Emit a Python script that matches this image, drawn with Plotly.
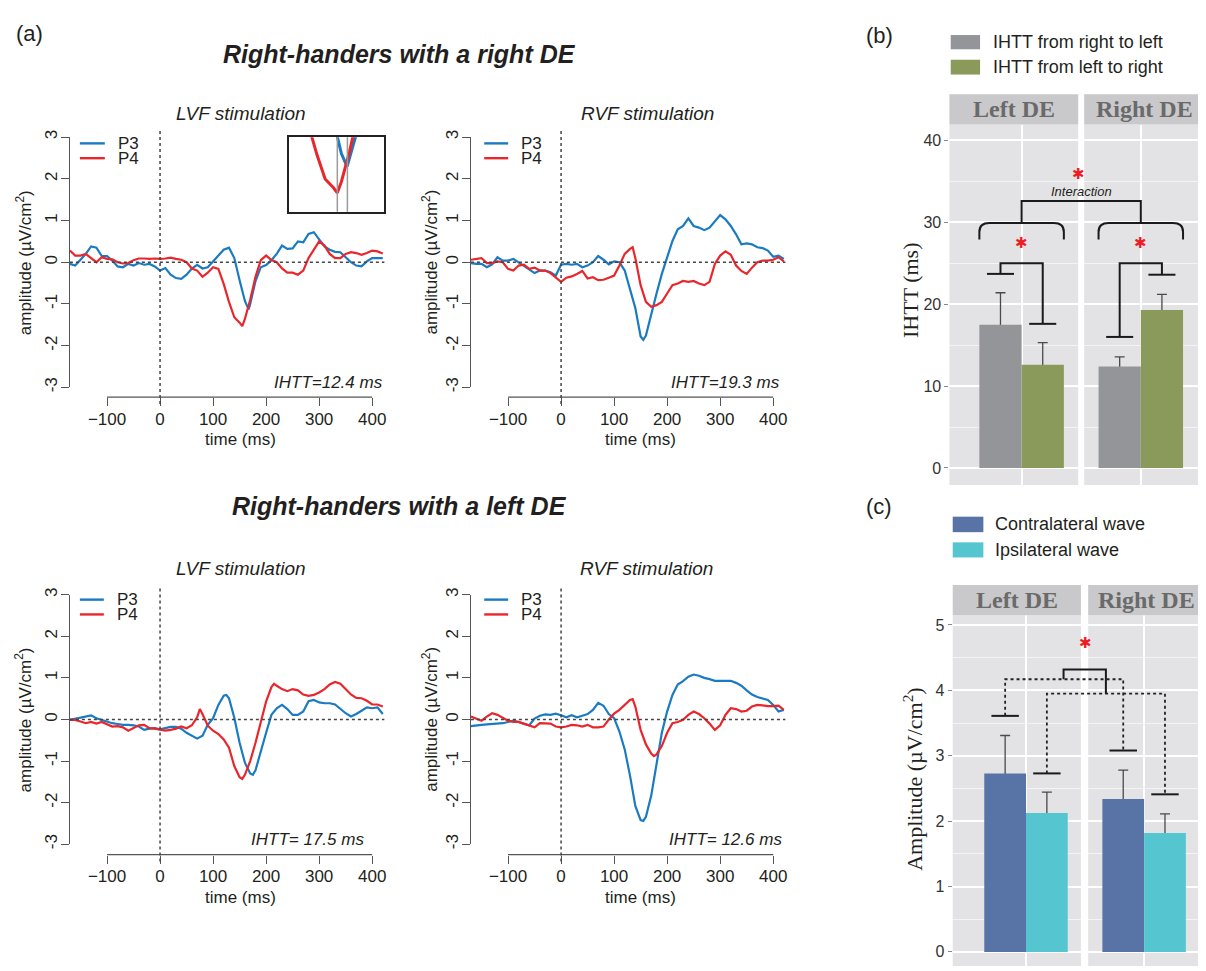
import plotly.graph_objects as go

# the page is drawn with an 8px body margin, so the figure is sized to fit the window
OFF = 8
FIG_W, FIG_H = 1206 - OFF, 971 - OFF
SANS = "Liberation Sans"
SERIF = "Liberation Serif"
INK = "#231f20"
BLUE = "#1a7bc2"
RED = "#e9262b"
STAR_RED = "#ee1d24"
GRAY_BAR = "#939598"
GREEN_BAR = "#8a9a5b"
CONTRA = "#5873a6"
IPSI = "#55c5cf"
PANEL_BG = "#e3e3e5"
STRIP_BG = "#c9c9cb"
STRIP_TXT = "#6a6a6a"
AXC = "#555555"

# ---------------- data: ERP traces (uV/cm2), time in ms ----------------
T = list(range(-170, 421, 10))

RDE_LVF_P3 = [-0.04, -0.08, 0.06, 0.2, 0.38, 0.35, 0.15, 0.15, 0.04, -0.1, -0.12, -0.04, -0.08, -0.02, -0.06,
              -0.04, -0.1, -0.2, -0.14, -0.3, -0.38, -0.4, -0.3, -0.15, -0.06, -0.15, -0.12, 0.02, 0.15, 0.3,
              0.35, 0.1, -0.43, -0.93, -1.0, -0.45, -0.12, -0.07, 0.05, 0.2, 0.4, 0.32, 0.33, 0.5, 0.48,
              0.68, 0.72, 0.55, 0.38, 0.3, 0.25, 0.24, 0.12, 0.0, -0.08, -0.1, 0.02, 0.1, 0.1, 0.1]
RDE_LVF_P4 = [0.28, 0.16, 0.16, 0.2, 0.1, 0.0, 0.12, 0.08, 0.07, 0.0, -0.03, -0.02, 0.05, 0.09, 0.09,
              0.08, 0.09, 0.08, 0.09, 0.11, 0.08, 0.06, 0.0, -0.15, -0.2, -0.35, -0.25, -0.12, -0.16, -0.52,
              -0.95, -1.32, -1.45, -1.36, -0.9, -0.35, 0.05, 0.16, 0.05, 0.0, -0.15, -0.25, -0.25, -0.3, -0.2,
              0.1, 0.3, 0.5, 0.4, 0.2, 0.1, 0.1, 0.2, 0.24, 0.22, 0.18, 0.22, 0.28, 0.26, 0.21]
RDE_RVF_P3 = [-0.02, -0.04, -0.04, -0.12, -0.05, 0.12, 0.04, 0.04, 0.08, 0.0, -0.08, -0.18, -0.26, -0.2, -0.2,
              -0.24, -0.32, -0.06, -0.04, -0.06, -0.04, -0.12, -0.08, 0.0, 0.15, 0.06, -0.05, 0.02, 0.0, -0.2,
              -0.67, -1.1, -1.78, -1.76, -1.22, -0.75, -0.28, 0.12, 0.51, 0.79, 0.87, 1.05, 0.87, 0.83, 0.77,
              0.83, 0.99, 1.13, 1.03, 0.87, 0.67, 0.43, 0.45, 0.43, 0.36, 0.34, 0.28, 0.13, 0.16, 0.08]
RDE_RVF_P4 = [0.06, 0.08, 0.1, -0.02, -0.02, 0.02, 0.0, -0.16, -0.2, -0.08, -0.06, -0.16, -0.13, -0.2, -0.2,
              -0.26, -0.36, -0.47, -0.37, -0.34, -0.28, -0.21, -0.39, -0.36, -0.43, -0.42, -0.37, -0.32, -0.08, 0.2,
              0.32, 0.1, -0.55, -0.95, -1.07, -1.03, -0.95, -0.75, -0.55, -0.51, -0.45, -0.47, -0.45, -0.51, -0.55,
              -0.47, -0.04, 0.16, 0.26, 0.18, -0.08, -0.21, -0.28, -0.13, 0.0, 0.04, 0.04, 0.06, 0.12, 0.02]
LDE_LVF_P3 = [-0.01, 0.02, 0.05, 0.07, 0.1, 0.03, -0.01, -0.05, -0.09, -0.11, -0.13, -0.13, -0.14, -0.17, -0.25,
              -0.22, -0.21, -0.24, -0.21, -0.18, -0.18, -0.22, -0.32, -0.4, -0.46, -0.39, -0.13, 0.03, 0.35, 0.57,
              0.51, 0.04, -0.56, -1.04, -1.3, -1.22, -0.8, -0.32, 0.11, 0.27, 0.35, 0.25, 0.11, 0.11, 0.19,
              0.44, 0.47, 0.41, 0.39, 0.39, 0.36, 0.25, 0.15, 0.07, 0.13, 0.21, 0.29, 0.27, 0.29, 0.13]
LDE_LVF_P4 = [-0.01, -0.01, -0.05, -0.09, -0.06, -0.1, -0.06, -0.11, -0.17, -0.16, -0.19, -0.27, -0.21, -0.14, -0.13,
              -0.21, -0.22, -0.25, -0.27, -0.25, -0.22, -0.17, -0.21, -0.14, 0.05, 0.13, -0.15, -0.27, -0.35, -0.48,
              -0.68, -1.12, -1.39, -1.33, -1.0, -0.56, -0.05, 0.43, 0.78, 0.81, 0.73, 0.68, 0.73, 0.7, 0.6,
              0.57, 0.59, 0.65, 0.73, 0.84, 0.9, 0.86, 0.74, 0.6, 0.52, 0.51, 0.45, 0.36, 0.36, 0.31]
LDE_RVF_P3 = [-0.16, -0.14, -0.13, -0.12, -0.11, -0.1, -0.09, -0.06, -0.03, -0.06, -0.11, -0.14, 0.02, 0.09, 0.12,
              0.11, 0.14, 0.1, 0.05, 0.1, 0.05, 0.09, 0.13, 0.23, 0.4, 0.33, 0.13, 0.03, -0.29, -0.72,
              -1.35, -2.08, -2.42, -2.34, -1.83, -1.08, -0.32, 0.19, 0.59, 0.84, 0.92, 1.03, 1.08, 1.05, 1.0,
              0.97, 0.93, 0.93, 0.93, 0.93, 0.88, 0.81, 0.7, 0.6, 0.54, 0.51, 0.47, 0.35, 0.19, 0.23]
LDE_RVF_P4 = [0.07, 0.02, -0.03, 0.07, 0.15, 0.11, 0.03, -0.03, -0.06, -0.06, -0.1, -0.14, -0.19, -0.09, -0.09,
              -0.1, -0.17, -0.19, -0.17, -0.13, -0.14, -0.17, -0.13, -0.19, -0.19, -0.17, 0.0, 0.14, 0.23, 0.36,
              0.47, 0.31, -0.25, -0.6, -0.82, -0.84, -0.64, -0.32, -0.09, -0.06, -0.01, 0.11, 0.19, 0.13, 0.03,
              -0.1, -0.25, -0.14, 0.11, 0.27, 0.25, 0.19, 0.21, 0.31, 0.35, 0.34, 0.32, 0.32, 0.33, 0.23]

# extra samples at the local extrema (time, value)
PEAKS_RDE_LVF_P3 = [(167, -1.13)]
PEAKS_RDE_LVF_P4 = [(155, -1.53)]
PEAKS_RDE_RVF_P3 = [(155, -1.86)]
PEAKS_RDE_RVF_P4 = [(135, 0.36)]
PEAKS_LDE_LVF_P3 = [(125, 0.59), (175, -1.33)]
PEAKS_LDE_LVF_P4 = [(75, 0.25), (155, -1.43), (215, 0.86)]
PEAKS_LDE_RVF_P3 = [(155, -2.44)]
PEAKS_LDE_RVF_P4 = [(135, 0.49), (175, -0.88)]

SERIES = {
    "RDE_LVF_P3": (RDE_LVF_P3, PEAKS_RDE_LVF_P3), "RDE_LVF_P4": (RDE_LVF_P4, PEAKS_RDE_LVF_P4),
    "RDE_RVF_P3": (RDE_RVF_P3, PEAKS_RDE_RVF_P3), "RDE_RVF_P4": (RDE_RVF_P4, PEAKS_RDE_RVF_P4),
    "LDE_LVF_P3": (LDE_LVF_P3, PEAKS_LDE_LVF_P3), "LDE_LVF_P4": (LDE_LVF_P4, PEAKS_LDE_LVF_P4),
    "LDE_RVF_P3": (LDE_RVF_P3, PEAKS_LDE_RVF_P3), "LDE_RVF_P4": (LDE_RVF_P4, PEAKS_LDE_RVF_P4),
}

IHTT_MS = [12.4, 19.3, 17.5, 12.6]
IHTT_LABELS = ["IHTT=12.4 ms", "IHTT=19.3 ms", "IHTT= 17.5 ms", "IHTT= 12.6 ms"]
XTICKS = [-100, 0, 100, 200, 300, 400]
XTICKTEXT = ["\u2212100", "0", "100", "200", "300", "400"]
YTICKS = [-3, -2, -1, 0, 1, 2, 3]
YTICKTEXT = ["-3", "-2", "-1", "0", "1", "2", "3"]

# ---------------- data: bar charts ----------------
GROUPS = ["Left DE", "Right DE"]
IHTT_R2L = [17.5, 12.4]
IHTT_R2L_SE = [3.9, 1.16]
IHTT_L2R = [12.6, 19.3]
IHTT_L2R_SE = [2.7, 1.9]
AMP_CONTRA = [2.73, 2.34]
AMP_CONTRA_SE = [0.58, 0.44]
AMP_IPSI = [2.125, 1.82]
AMP_IPSI_SE = [0.32, 0.29]


def merged(key):
    vals, peaks = SERIES[key]
    pts = sorted(list(zip(T, vals)) + list(peaks))
    return [a for a, _ in pts], [b for _, b in pts]


def PX(x):
    return (x - OFF) / FIG_W


def PY(y):
    return 1 - (y - OFF) / FIG_H


def sid(n):
    return "" if n == 1 else str(n)


fig = go.Figure()
axes = {}
shapes = []
annots = []


def text(x, y, s, size, color=INK, family=SANS, xanchor="center", angle=0):
    annots.append(dict(x=PX(x), y=PY(y), xref="paper", yref="paper", text=s, showarrow=False,
                       font=dict(family=family, size=size, color=color), xanchor=xanchor,
                       yanchor="middle", textangle=angle))


def ptext(x, y, s, size, color=INK, family=SANS, angle=0):
    annots.append(dict(x=x, y=y, xref="paper", yref="paper", text=s, showarrow=False,
                       font=dict(family=family, size=size, color=color), xanchor="center",
                       yanchor="middle", textangle=angle))


# ---------------- EEG panels ----------------
EEG_PANELS = [
    dict(n=1, p3="RDE_LVF_P3", p4="RDE_LVF_P4", title="LVF stimulation", ihtt=0,
         x0=70, x1=385, yt=131.7, yb=385, xl=395, tx=241, ty=108, ytx=24, xtx=240.5, xty=438,
         ix=386, iy=380, lx=(80, 105), ltx=116, ly=(138, 153)),
    dict(n=2, p3="RDE_RVF_P3", p4="RDE_RVF_P4", title="RVF stimulation", ihtt=1,
         x0=471.7, x1=786.7, yt=131.7, yb=385, xl=395, tx=649, ty=108, ytx=431, xtx=642, xty=438,
         ix=783, iy=380, lx=(485, 509), ltx=520, ly=(138, 153)),
    dict(n=3, p3="LDE_LVF_P3", p4="LDE_LVF_P4", title="LVF stimulation", ihtt=2,
         x0=70, x1=385, yt=595, yb=847.7, xl=858.3, tx=241, ty=568, ytx=24, xtx=240.5, xty=902,
         ix=367, iy=843, lx=(80, 104), ltx=115, ly=(600, 615)),
    dict(n=4, p3="LDE_RVF_P3", p4="LDE_RVF_P4", title="RVF stimulation", ihtt=3,
         x0=471.7, x1=786.7, yt=595, yb=847.7, xl=858.3, tx=648, ty=568, ytx=431, xtx=642, xty=902,
         ix=785, iy=843, lx=(485, 509), ltx=520, ly=(600, 615)),
]

for p in EEG_PANELS:
    s = sid(p["n"])
    for key, col in ((p["p3"], BLUE), (p["p4"], RED)):
        t, v = merged(key)
        fig.add_trace(go.Scatter(x=t, y=v, mode="lines", line=dict(color=col, width=2.2),
                                 xaxis="x" + s, yaxis="y" + s, hoverinfo="skip", showlegend=False))
    axes["xaxis" + s] = dict(domain=[PX(p["x0"]), PX(p["x1"])], range=[-170, 423], anchor="free",
                             position=PY(p["xl"]), tickvals=XTICKS, ticktext=XTICKTEXT, ticks="outside",
                             ticklen=8, tickwidth=1.2, tickcolor=AXC, showline=False, showgrid=False,
                             zeroline=False, tickfont=dict(size=17, color=INK), ticklabelstandoff=-2)
    axes["yaxis" + s] = dict(domain=[PY(p["yb"]), PY(p["yt"])], range=[-3, 3], anchor="x" + s,
                             tickvals=YTICKS, ticktext=YTICKTEXT, tickangle=-90, ticks="outside", ticklen=8,
                             tickwidth=1.2, tickcolor=AXC, showline=True, linecolor=AXC, linewidth=1.2,
                             showgrid=False, zeroline=False, tickfont=dict(size=17, color=INK),
                             ticklabelstandoff=-3)
    # offset R-style x-axis line spanning the tick range
    shapes.append(dict(type="line", xref="x" + s, yref="paper", x0=XTICKS[0], x1=XTICKS[-1],
                       y0=PY(p["xl"]), y1=PY(p["xl"]), line=dict(color=AXC, width=1.2)))
    # dotted reference lines
    shapes.append(dict(type="line", xref="x" + s, yref="paper", x0=0, x1=0,
                       y0=PY(p["xl"] + 7), y1=PY(p["yt"] - 9), line=dict(color="#444", width=1.5, dash="dot")))
    shapes.append(dict(type="line", xref="x" + s + " domain", yref="y" + s, x0=0, x1=1, y0=0, y1=0,
                       line=dict(color="#444", width=1.5, dash="dot")))
    # legend
    for yy, col, lab in ((p["ly"][0], BLUE, "P3"), (p["ly"][1], RED, "P4")):
        shapes.append(dict(type="line", xref="paper", yref="paper", x0=PX(p["lx"][0]), x1=PX(p["lx"][1]),
                           y0=PY(yy), y1=PY(yy), line=dict(color=col, width=2.4)))
        text(p["ltx"], yy, lab, 17, xanchor="left")
    text(p["tx"], p["ty"], "<i>" + p["title"] + "</i>", 19)
    text(p["ix"], p["iy"], "<i>" + IHTT_LABELS[p["ihtt"]] + "</i>", 17, xanchor="right")
    text(p["ytx"], (p["yt"] + p["yb"]) / 2, "amplitude (µV/cm<sup>2</sup>)", 17, angle=-90)
    text(p["xtx"], p["xty"], "time (ms)", 17)

# ---------------- inset (zoom on the trough) ----------------
t3, v3 = merged("RDE_LVF_P3")
t4, v4 = merged("RDE_LVF_P4")
fig.add_trace(go.Scatter(x=t3, y=v3, mode="lines", line=dict(color=BLUE, width=3), xaxis="x5", yaxis="y5",
                         hoverinfo="skip", showlegend=False))
fig.add_trace(go.Scatter(x=t4, y=v4, mode="lines", line=dict(color=RED, width=3), xaxis="x5", yaxis="y5",
                         hoverinfo="skip", showlegend=False))
axes["xaxis5"] = dict(domain=[PX(289), PX(384.3)], range=[95, 212], anchor="y5", showticklabels=False,
                      ticks="", showline=True, mirror=True, linecolor="#222", linewidth=1.5, showgrid=False,
                      zeroline=False)
axes["yaxis5"] = dict(domain=[PY(207.3), PY(131.7)], range=[-1.82, -0.68], anchor="x5", showticklabels=False,
                      ticks="", showline=True, mirror=True, linecolor="#222", linewidth=1.5, showgrid=False,
                      zeroline=False)
t_min = t4[v4.index(min(v4))]
for tx in (t_min, t_min + IHTT_MS[0]):
    shapes.append(dict(type="line", xref="x5", yref="y5 domain", x0=tx, x1=tx, y0=0, y1=1,
                       line=dict(color="#9a9a9a", width=1.5)))

# ---------------- titles of (a) ----------------
text(14, 27, "(a)", 22, xanchor="left")
text(400, 47, "<b><i>Right-handers with a right DE</i></b>", 25)
text(400, 505, "<b><i>Right-handers with a left DE</i></b>", 25)

# ---------------- bar panels ----------------
B_W = 0.328
C_W = 0.3255
BAR_AX = {
    6: dict(xd=[PX(951), PX(1080)], xr=[-0.5605, 0.4395], yd=[PY(484), PY(119)], yr=[-2.09, 41.93]),
    7: dict(xd=[PX(1086), 1.0], xr=[-0.4395, 0.4907], yd=[PY(484), PY(119)], yr=[-2.09, 41.93]),
    8: dict(xd=[PX(954.3), PX(1082.7)], xr=[-0.5717, 0.4283], yd=[0.0, PY(615.7)], yr=[-0.216, 5.151]),
    9: dict(xd=[PX(1090), 1.0], xr=[-0.436, 0.467], yd=[0.0, PY(615.7)], yr=[-0.216, 5.151]),
}


def gx(n, v):
    a = BAR_AX[n]
    return a["xd"][0] + (v - a["xr"][0]) / (a["xr"][1] - a["xr"][0]) * (a["xd"][1] - a["xd"][0])


def gy(n, v):
    a = BAR_AX[n]
    return a["yd"][0] + (v - a["yr"][0]) / (a["yr"][1] - a["yr"][0]) * (a["yd"][1] - a["yd"][0])


def add_bar(n, val, se, width, offset, color):
    s = str(n)
    # error bar on a transparent twin drawn first, so the visible bar hides its lower half
    fig.add_trace(go.Bar(x=[0], y=[val], width=width, offset=offset,
                         marker=dict(color="rgba(0,0,0,0)", line=dict(width=0)),
                         error_y=dict(type="data", array=[se], color="#4a4a4a", thickness=1.3, width=5),
                         xaxis="x" + s, yaxis="y" + s, hoverinfo="skip", showlegend=False))
    fig.add_trace(go.Bar(x=[0], y=[val], width=width, offset=offset,
                         marker=dict(color=color, line=dict(width=0)),
                         xaxis="x" + s, yaxis="y" + s, hoverinfo="skip", showlegend=False))


for i, n in enumerate((6, 7)):
    add_bar(n, IHTT_R2L[i], IHTT_R2L_SE[i], B_W, -B_W, GRAY_BAR)
    add_bar(n, IHTT_L2R[i], IHTT_L2R_SE[i], B_W, 0, GREEN_BAR)
for i, n in enumerate((8, 9)):
    add_bar(n, AMP_CONTRA[i], AMP_CONTRA_SE[i], C_W, -C_W, CONTRA)
    add_bar(n, AMP_IPSI[i], AMP_IPSI_SE[i], C_W, 0, IPSI)

for n, a in BAR_AX.items():
    s = str(n)
    first = n in (6, 8)
    is_b = n in (6, 7)
    axes["xaxis" + s] = dict(domain=a["xd"], range=a["xr"], anchor="y" + s, tickvals=[0], showticklabels=False,
                             ticks="", showgrid=True, gridcolor="white", gridwidth=1.6, zeroline=False,
                             showline=False)
    axes["yaxis" + s] = dict(domain=a["yd"], range=a["yr"], anchor="x" + s,
                             tickvals=[0, 10, 20, 30, 40] if is_b else [0, 1, 2, 3, 4, 5],
                             showticklabels=first, ticks="outside" if first else "", ticklen=4,
                             tickcolor="#8a8a8a", tickfont=dict(size=16, color="#333333"),
                             ticklabelstandoff=0, showgrid=True, gridcolor="white", gridwidth=1.6,
                             minor=dict(tickvals=[5, 15, 25, 35] if is_b else [0.5, 1.5, 2.5, 3.5, 4.5],
                                        showgrid=True, gridcolor="rgba(255,255,255,0.6)", gridwidth=1),
                             zeroline=False, showline=False)
    shapes.append(dict(type="rect", xref="x" + s + " domain", yref="y" + s + " domain", x0=0, x1=1, y0=0, y1=1,
                       fillcolor=PANEL_BG, line=dict(width=0), layer="below"))
    st_top, st_bot = (88.3, 119) if is_b else (585.3, 615.7)
    shapes.append(dict(type="rect", xref="x" + s + " domain", yref="paper", x0=0, x1=1,
                       y0=PY(st_bot), y1=PY(st_top), fillcolor=STRIP_BG, line=dict(width=0)))
    ptext((a["xd"][0] + a["xd"][1]) / 2, PY((st_top + st_bot) / 2),
          "<b>" + GROUPS[0 if first else 1] + "</b>", 24, color=STRIP_TXT, family=SERIF)

BLK = dict(color="#1a1a1a", width=2)
TIP_B = 0.105
TIP_C = 0.107


def hline(x0, x1, y, line=BLK):
    shapes.append(dict(type="line", xref="paper", yref="paper", x0=x0, x1=x1, y0=y, y1=y, line=line))


def path(d, line=BLK):
    shapes.append(dict(type="path", xref="paper", yref="paper", path=d, line=line))


def star(x, y):
    ptext(x, y, "\u2731", 15, color=STAR_RED, family="DejaVu Sans")


# (b) significance marks
SIG_B_TIPS = [[23.7, 17.6], [16.0, 23.6]]
SIG_B_TOP = 25.0
BRACE_B = [27.9, 29.9]
INTER_B_TOP = 32.6
for i, n in enumerate((6, 7)):
    c0, c1 = -B_W / 2, B_W / 2
    h0, h1 = SIG_B_TIPS[i]
    for c, h in ((c0, h0), (c1, h1)):
        hline(gx(n, c - TIP_B), gx(n, c + TIP_B), gy(n, h))
    path("M %f,%f V %f H %f V %f" % (gx(n, c0), gy(n, h0), gy(n, SIG_B_TOP), gx(n, c1), gy(n, h1)))
    xl, xr = gx(n, -B_W), gx(n, B_W)
    yb, yt = gy(n, BRACE_B[0]), gy(n, BRACE_B[1])
    rx, ry = 10 / FIG_W, 9 / FIG_H
    path("M %f,%f L %f,%f Q %f,%f %f,%f L %f,%f Q %f,%f %f,%f L %f,%f" % (
        xl, yb, xl, yt - ry, xl, yt, xl + rx, yt, xr - rx, yt, xr, yt, xr, yt - ry, xr, yb))
    star(gx(n, 0), gy(n, 27.5))
path("M %f,%f V %f H %f V %f" % (gx(6, 0), gy(6, BRACE_B[1]), gy(6, INTER_B_TOP), gx(7, 0), gy(7, BRACE_B[1])))
mid_b = (gx(6, 0) + gx(7, 0)) / 2
star(mid_b - 3 / FIG_W, gy(6, 35.9))
ptext(mid_b, gy(6, 33.8), "<i>Interaction</i>", 13)

# (c) significance marks
SIG_C_TIPS = [[3.61, 2.73], [3.08, 2.41]]
DOT_C_TOPS = [4.17, 3.95]
INTER_C = [4.17, 4.32, 3.95]
DOT = dict(color="#222", width=1.8, dash="dot")
for i, n in enumerate((8, 9)):
    for c, h in ((-C_W / 2, SIG_C_TIPS[i][0]), (C_W / 2, SIG_C_TIPS[i][1])):
        hline(gx(n, c - TIP_C), gx(n, c + TIP_C), gy(n, h))
for j, c in enumerate((-C_W / 2, C_W / 2)):
    path("M %f,%f V %f H %f V %f" % (gx(8, c), gy(8, SIG_C_TIPS[0][j]), gy(8, DOT_C_TOPS[j]),
                                     gx(9, c), gy(9, SIG_C_TIPS[1][j])), line=DOT)
path("M %f,%f V %f H %f V %f" % (gx(8, 0.293), gy(8, INTER_C[0]), gy(8, INTER_C[1]), gx(9, -0.298), gy(9, INTER_C[2])))
star((gx(8, 0) + gx(9, 0)) / 2, gy(8, 4.72))

# legends and labels of (b) and (c)
LEG_B = [(GRAY_BAR, "IHTT from right to left", 28.3, 42.7), (GREEN_BAR, "IHTT from left to right", 53.3, 68.3)]
LEG_C = [(CONTRA, "Contralateral wave", 516, 531.7), (IPSI, "Ipsilateral wave", 542, 557.3)]
for (col, lab, y0, y1) in LEG_B:
    shapes.append(dict(type="rect", xref="paper", yref="paper", x0=PX(952.3), x1=PX(981.7), y0=PY(y1), y1=PY(y0),
                       fillcolor=col, line=dict(width=0)))
    text(992.3, (y0 + y1) / 2, lab, 18, xanchor="left")
for (col, lab, y0, y1) in LEG_C:
    shapes.append(dict(type="rect", xref="paper", yref="paper", x0=PX(954.3), x1=PX(985), y0=PY(y1), y1=PY(y0),
                       fillcolor=col, line=dict(width=0)))
    text(995, (y0 + y1) / 2, lab, 18, xanchor="left")

text(865, 29, "(b)", 22, xanchor="left")
text(865, 506, "(c)", 22, xanchor="left")
text(912, 286, "IHTT (ms)", 22, family=SERIF, angle=-90)
text(915, 781, "Amplitude (µV/cm<sup>2</sup>)", 22, family=SERIF, angle=-90)

fig.update_layout(
    width=FIG_W, height=FIG_H, margin=dict(l=0, r=0, t=0, b=0),
    paper_bgcolor="white", plot_bgcolor="white", showlegend=False,
    barmode="overlay", font=dict(family=SANS, color=INK),
    shapes=shapes, annotations=annots, **axes,
)

fig.write_html("out.html")
